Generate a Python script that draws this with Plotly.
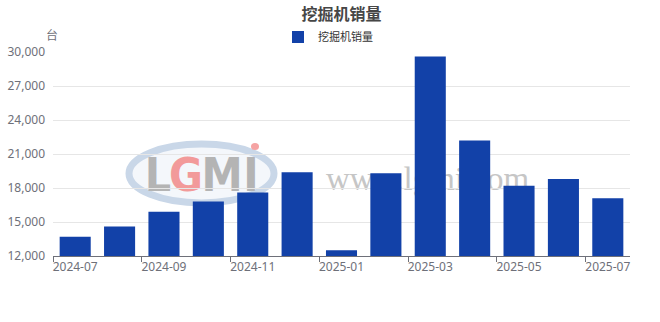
import plotly.graph_objects as go

months = ["2024-07", "2024-08", "2024-09", "2024-10", "2024-11", "2024-12",
          "2025-01", "2025-02", "2025-03", "2025-04", "2025-05", "2025-06", "2025-07"]
sales = [13700, 14600, 15900, 16800, 17600, 19400, 12500, 19300, 29600, 22200, 18200, 18800, 17100]
series_name = "挖掘机销量"
title_text = "挖掘机销量"
unit_text = "台"
y_ticks = [12000, 15000, 18000, 21000, 24000, 27000, 30000]

W, H = 660, 322
ML, MR, MT, MB = 53, 30, 52, 66
PW, PH = W - ML - MR, H - MT - MB

def px(x):
    return (x - ML) / PW

def py(y):
    return (H - MB - y) / PH

FONT = "Noto Sans, Noto Sans CJK SC, sans-serif"
BAR = "#1241a8"

fig = go.Figure()
fig.add_trace(go.Bar(
    x=months, y=sales, name=series_name,
    marker=dict(color=BAR, line=dict(width=0)),
    showlegend=True,
))

shapes = []
# watermark logo: oval ring
shapes.append(dict(type="circle", xref="paper", yref="paper", layer="below",
                   x0=px(129), x1=px(274), y0=py(203), y1=py(144),
                   line=dict(color="#c9d7e8", width=7), fillcolor="rgba(236,241,248,0.6)"))
letters = [("L", 158, "#b4b4b4"), ("G", 186, "#f29a9a"), ("M", 222, "#b4b4b4"), ("I", 251, "#b4b4b4")]
for ch, cx, col in letters:
    shapes.append(dict(type="rect", xref="paper", yref="paper", layer="below",
                       x0=px(cx - 20), x1=px(cx + 20), y0=py(194), y1=py(150),
                       line=dict(width=0), fillcolor="rgba(0,0,0,0)",
                       label=dict(text="<b>" + ch + "</b>", textposition="middle center",
                                  font=dict(family="DejaVu Sans Condensed, DejaVu Sans, sans-serif",
                                            size=46, color=col))))
shapes.append(dict(type="circle", xref="paper", yref="paper", layer="below",
                   x0=px(251), x1=px(259), y0=py(150), y1=py(143),
                   line=dict(width=0), fillcolor="#f5a3a3"))
# watermark url text
shapes.append(dict(type="rect", xref="paper", yref="paper", layer="below",
                   x0=px(300), x1=px(555), y0=py(195), y1=py(155),
                   line=dict(width=0), fillcolor="rgba(0,0,0,0)",
                   label=dict(text="www.lgmi.com", textposition="middle center",
                              font=dict(family="Liberation Serif, serif", size=33, color="#c6c6c6"))))

fig.update_layout(
    width=W, height=H,
    margin=dict(l=ML, r=MR, t=MT, b=MB, pad=0, autoexpand=False),
    paper_bgcolor="white", plot_bgcolor="white",
    font=dict(family=FONT, size=12, color="#6e7079"),
    title=dict(text="<b>" + title_text + "</b>", x=0.5, xref="paper", xanchor="center",
               y=1 - 14 / H, yref="container", yanchor="middle",
               font=dict(family=FONT, size=16, color="#464646")),
    legend=dict(orientation="h", x=px(278), xanchor="left", y=1 + (MT - 37) / PH, yanchor="middle",
                font=dict(family=FONT, size=11, color="#333333"), itemwidth=30,
                bgcolor="rgba(0,0,0,0)"),
    bargap=0.3,
    shapes=shapes,
    annotations=[dict(text=unit_text, xref="paper", yref="paper", x=px(52), y=1 + (MT - 35) / PH,
                      xanchor="center", yanchor="middle", showarrow=False,
                      font=dict(family=FONT, size=12, color="#6e7079"))],
)

fig.update_xaxes(
    type="category", dtick=2, tickson="boundaries", tickangle=0, automargin=False,
    showline=True, linecolor="#6e7079", linewidth=1,
    ticks="outside", ticklen=5, tickcolor="#6e7079",
    showgrid=False, tickfont=dict(family=FONT, size=12, color="#6e7079"),
    range=[-0.5, len(months) - 0.5],
)
fig.update_yaxes(
    range=[12000, 30000], tickvals=y_ticks, tickformat=",d", automargin=False,
    showgrid=True, gridcolor="#e6e6e6", gridwidth=1,
    zeroline=False, showline=False, ticks="", ticklabelstandoff=7,
    tickfont=dict(family=FONT, size=12, color="#6e7079"),
)

fig.write_html("out.html")
